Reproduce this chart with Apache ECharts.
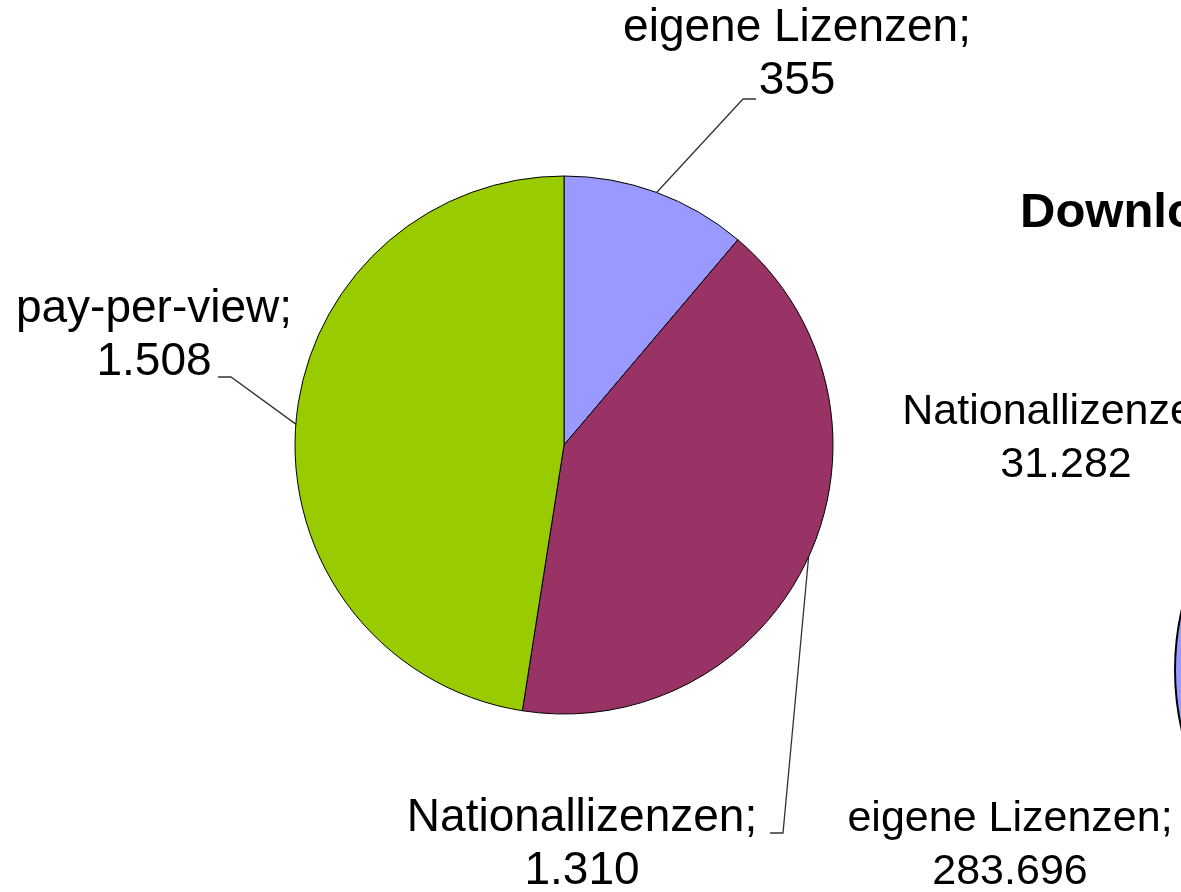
<!DOCTYPE html>
<html>
<head>
<meta charset="utf-8">
<script src="https://cdn.jsdelivr.net/npm/echarts@6/dist/echarts.min.js"></script>
<style>
  html, body { margin: 0; padding: 0; background: #fff; }
  #chart { width: 1181px; height: 892px; }
</style>
</head>
<body>
<div id="chart"></div>
<script>
// left pie
const leftNames = ["eigene Lizenzen", "Nationallizenzen", "pay-per-view"];
const leftValues = [355, 1310, 1508];
// right pie (only partly visible on the slide)
const rightNames = ["eigene Lizenzen", "Nationallizenzen"];
const rightValues = [283696, 31282];
const titleText = "Downloads";

const colors = ["#9999FF", "#993366", "#99CC00"];
const FONT = "'Liberation Sans', Arial, sans-serif";

// label block centres + leader line bend/end, by dataIndex
const leftLabelPos = [
  { x: 797, y: 55, bend: [743, 99], end: [756, 99] },
  { x: 582, y: 845, bend: [783, 833], end: [770, 833] },
  { x: 154, y: 336, bend: [231, 377], end: [218, 377] },
];
const rightLabelPos = [
  { x: 1010, y: 846 },
  { x: 1066, y: 439 },
];

// 1508 -> "1.508"
function fmt(v) {
  return String(v).replace(/\B(?=(\d{3})+(?!\d))/g, ".");
}

const chart = echarts.init(document.getElementById("chart"));

chart.setOption({
  animation: false,
  backgroundColor: "#fff",
  title: {
    text: titleText,
    left: 1015,
    top: 184,
    textStyle: {
      fontFamily: FONT,
      fontSize: 49,
      fontWeight: "bold",
      color: "#000",
    },
  },
  series: [
    {
      type: "pie",
      center: [564, 445],
      radius: 269,
      startAngle: 90,
      clockwise: true,
      avoidLabelOverlap: false,
      silent: true,
      data: leftNames.map((n, i) => ({
        name: n,
        value: leftValues[i],
        itemStyle: { color: colors[i] },
      })),
      itemStyle: { borderColor: "#000", borderWidth: 1 },
      label: {
        show: true,
        position: "outside",
        formatter: (p) => p.name + ";\n" + fmt(p.value),
        fontFamily: FONT,
        fontSize: 46,
        lineHeight: 53,
        color: "#000",
        align: "center",
      },
      labelLine: {
        show: true,
        lineStyle: { color: "#333", width: 1.3 },
      },
      labelLayout: (params) => {
        const pos = leftLabelPos[params.dataIndex];
        const p0 = params.labelLinePoints
          ? params.labelLinePoints[0]
          : pos.bend;
        return {
          x: pos.x,
          y: pos.y,
          align: "center",
          verticalAlign: "middle",
          labelLinePoints: [p0, pos.bend, pos.end],
        };
      },
    },
    {
      type: "pie",
      center: [1444, 670],
      radius: 269,
      startAngle: 90,
      clockwise: true,
      avoidLabelOverlap: false,
      silent: true,
      data: rightNames.map((n, i) => ({
        name: n,
        value: rightValues[i],
        itemStyle: { color: colors[i] },
      })),
      itemStyle: { borderColor: "#000", borderWidth: 2 },
      label: {
        show: true,
        position: "outside",
        formatter: (p) => p.name + ";\n" + fmt(p.value),
        fontFamily: FONT,
        fontSize: 43,
        lineHeight: 53,
        color: "#000",
        align: "center",
      },
      labelLine: { show: false },
      labelLayout: (params) => {
        const pos = rightLabelPos[params.dataIndex];
        return { x: pos.x, y: pos.y, align: "center", verticalAlign: "middle" };
      },
    },
  ],
});
</script>
</body>
</html>
